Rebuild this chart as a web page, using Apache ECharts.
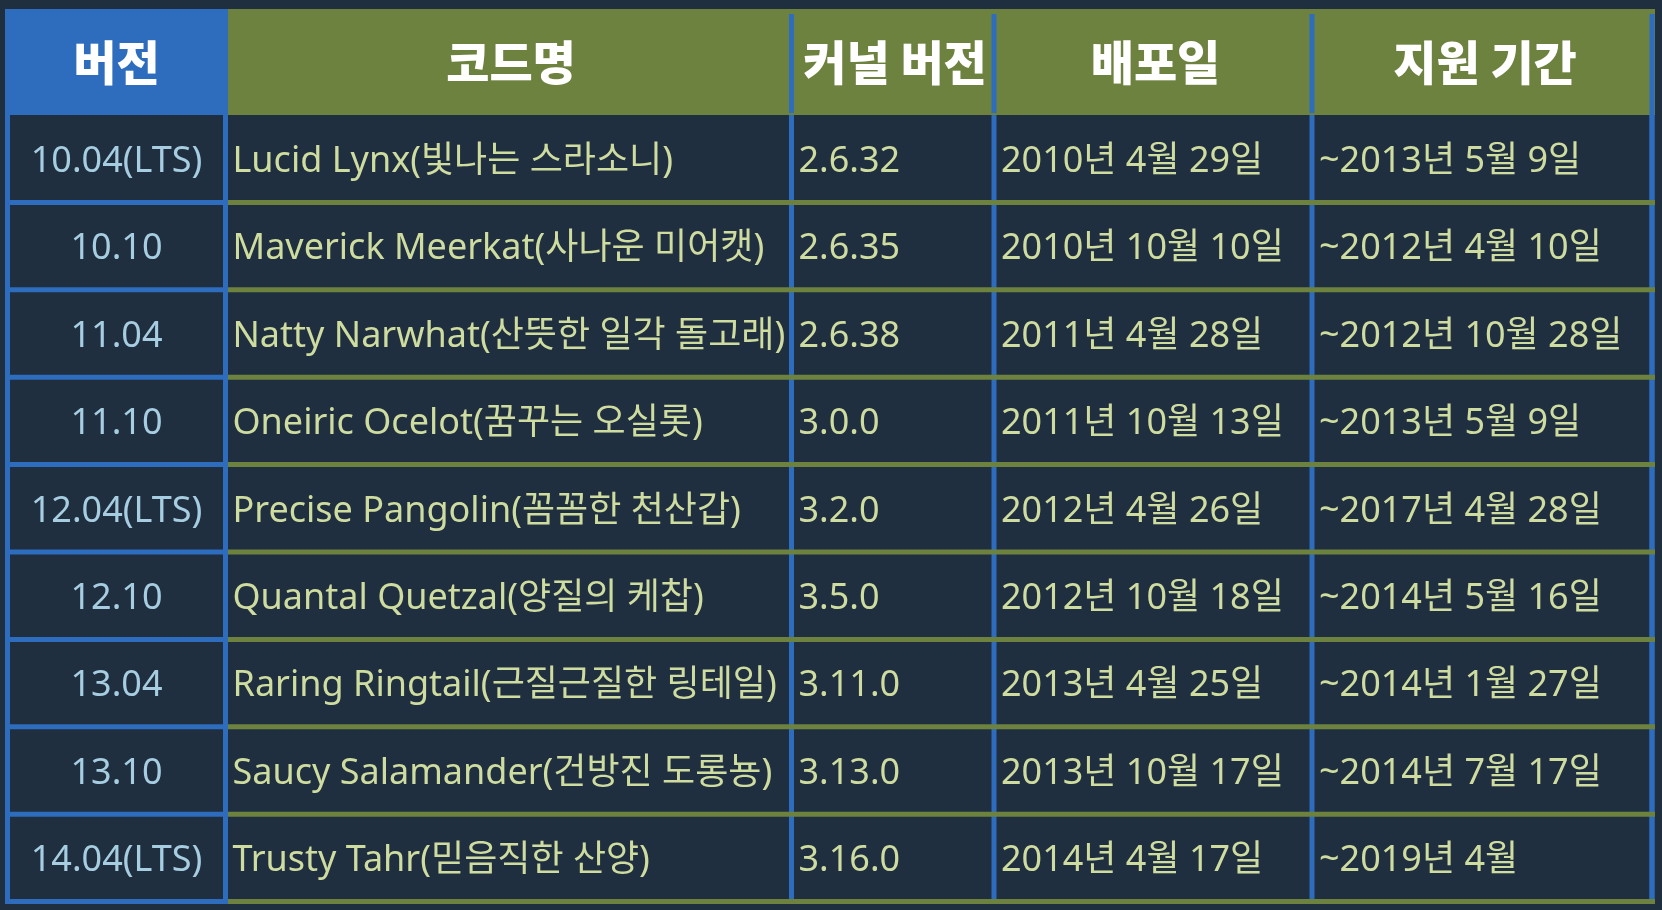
<!DOCTYPE html>
<html>
<head>
<meta charset="utf-8">
<script src="https://cdn.jsdelivr.net/npm/echarts@6/dist/echarts.min.js"></script>
<style>
  html, body { margin: 0; padding: 0; background: #1f2f40; }
  #table_show { width: 1662px; height: 910px; }
</style>
</head>
<body>
<div id="table_show"></div>
<script>
// 표 데이터
var headers = ['버전', '코드명', '커널 버전', '배포일', '지원 기간'];
var versions = ['10.04(LTS)', '10.10', '11.04', '11.10', '12.04(LTS)', '12.10', '13.04', '13.10', '14.04(LTS)'];
var codenames = [
    'Lucid Lynx(빛나는 스라소니)',
    'Maverick Meerkat(사나운 미어캣)',
    'Natty Narwhat(산뜻한 일각 돌고래)',
    'Oneiric Ocelot(꿈꾸는 오실롯)',
    'Precise Pangolin(꼼꼼한 천산갑)',
    'Quantal Quetzal(양질의 케찹)',
    'Raring Ringtail(근질근질한 링테일)',
    'Saucy Salamander(건방진 도롱뇽)',
    'Trusty Tahr(믿음직한 산양)'
];
var kernels = ['2.6.32', '2.6.35', '2.6.38', '3.0.0', '3.2.0', '3.5.0', '3.11.0', '3.13.0', '3.16.0'];
var releases = ['2010년 4월 29일', '2010년 10월 10일', '2011년 4월 28일', '2011년 10월 13일', '2012년 4월 26일',
    '2012년 10월 18일', '2013년 4월 25일', '2013년 10월 17일', '2014년 4월 17일'];
var supports = ['~2013년 5월 9일', '~2012년 4월 10일', '~2012년 10월 28일', '~2013년 5월 9일', '~2017년 4월 28일',
    '~2014년 5월 16일', '~2014년 1월 27일', '~2014년 7월 17일', '~2019년 4월'];

// 레이아웃 (축 단위)
var colEdges = [0, 223, 789, 991, 1310, 1650];
var lineX = [2.5, 220.5, 786.5, 989, 1307, 1647];
var headerH = 106;
var rowH = 87.4;
var tableH = 895;
var lineW = 5;
var textShift = 3;

var BLUE = '#2e6dbd';
var GREEN = '#6e8240';
var FONT = '"Noto Sans", "Noto Sans CJK KR", sans-serif';
var HEAD_FONT = '"Noto Sans CJK KR", sans-serif';

var columns = [versions, codenames, kernels, releases, supports];
var rowCount = versions.length;

function rowTop(r) { return headerH + r * rowH; }

// 데이터 아이템
var headerData = [];
for (var c = 0; c < headers.length; c++) headerData.push([c]);

var vLineData = [];
for (var v = 0; v < lineX.length; v++) vLineData.push([v]);

var hLineData = [];
for (var h = 1; h <= rowCount; h++) hLineData.push([h]);

var cellData = [];
for (var r = 0; r < rowCount; r++) {
    for (var cc = 0; cc < columns.length; cc++) cellData.push([cc, r]);
}

function rectOf(api, x0, y0, x1, y1) {
    var p0 = api.coord([x0, y0]);
    var p1 = api.coord([x1, y1]);
    return {
        x: Math.min(p0[0], p1[0]),
        y: Math.min(p0[1], p1[1]),
        width: Math.abs(p1[0] - p0[0]),
        height: Math.abs(p1[1] - p0[1])
    };
}

var oTable = echarts.init(document.getElementById('table_show'));
var option = {
    backgroundColor: '#1f2f40',
    animation: false,
    grid: { left: 5, right: 7, top: 9, bottom: 6 },
    xAxis: { type: 'value', min: 0, max: colEdges[colEdges.length - 1], show: false },
    yAxis: { type: 'value', min: 0, max: tableH, inverse: true, show: false },
    series: [
        {
            // 헤더 칸
            type: 'custom',
            z: 1,
            data: headerData,
            renderItem: function (params, api) {
                var c = api.value(0);
                var shape = rectOf(api, colEdges[c], 0, colEdges[c + 1], headerH);
                var mid = api.coord([(colEdges[c] + colEdges[c + 1]) / 2, headerH / 2]);
                return {
                    type: 'group',
                    children: [{
                        type: 'rect',
                        shape: shape,
                        style: { fill: c === 0 ? BLUE : GREEN }
                    }, {
                        type: 'text',
                        style: {
                            text: headers[c],
                            x: mid[0],
                            y: mid[1],
                            align: 'center',
                            verticalAlign: 'middle',
                            fill: '#ffffff',
                            fontSize: 47,
                            fontWeight: 900,
                            fontFamily: HEAD_FONT
                        }
                    }]
                };
            }
        },
        {
            // 세로 구분선 (파랑)
            type: 'custom',
            z: 2,
            data: vLineData,
            renderItem: function (params, api) {
                var i = api.value(0);
                var x = lineX[i];
                var kids = [];
                if (i > 0) {
                    kids.push({
                        type: 'rect',
                        shape: rectOf(api, x - lineW / 2, 5, x + lineW / 2, i === lineX.length - 1 ? tableH : headerH - 2),
                        style: { fill: BLUE }
                    });
                }
                kids.push({
                    type: 'rect',
                    shape: rectOf(api, x - lineW / 2, headerH, x + lineW / 2, tableH),
                    style: { fill: BLUE }
                });
                return { type: 'group', children: kids };
            }
        },
        {
            // 가로 구분선: 첫 열은 파랑, 나머지는 초록
            type: 'custom',
            z: 3,
            data: hLineData,
            renderItem: function (params, api) {
                var y = rowTop(api.value(0));
                return {
                    type: 'group',
                    children: [{
                        type: 'rect',
                        shape: rectOf(api, 0, y - lineW / 2, colEdges[1], y + lineW / 2),
                        style: { fill: BLUE }
                    }, {
                        type: 'rect',
                        shape: rectOf(api, colEdges[1], y - lineW / 2, colEdges[colEdges.length - 1], y + lineW / 2),
                        style: { fill: GREEN }
                    }]
                };
            }
        },
        {
            // 본문 글자
            type: 'custom',
            z: 4,
            data: cellData,
            renderItem: function (params, api) {
                var c = api.value(0);
                var r = api.value(1);
                var cy = rowTop(r) + rowH / 2 + textShift;
                var pos = c === 0
                    ? api.coord([(colEdges[0] + colEdges[1]) / 2, cy])
                    : api.coord([lineX[c] + 7, cy]);
                return {
                    type: 'text',
                    style: {
                        text: columns[c][r],
                        x: pos[0],
                        y: pos[1],
                        align: c === 0 ? 'center' : 'left',
                        verticalAlign: 'middle',
                        fill: c === 0 ? '#a6cde0' : '#cfdc9f',
                        fontSize: 36,
                        fontFamily: FONT
                    }
                };
            }
        }
    ]
};
oTable.setOption(option);
</script>
</body>
</html>
